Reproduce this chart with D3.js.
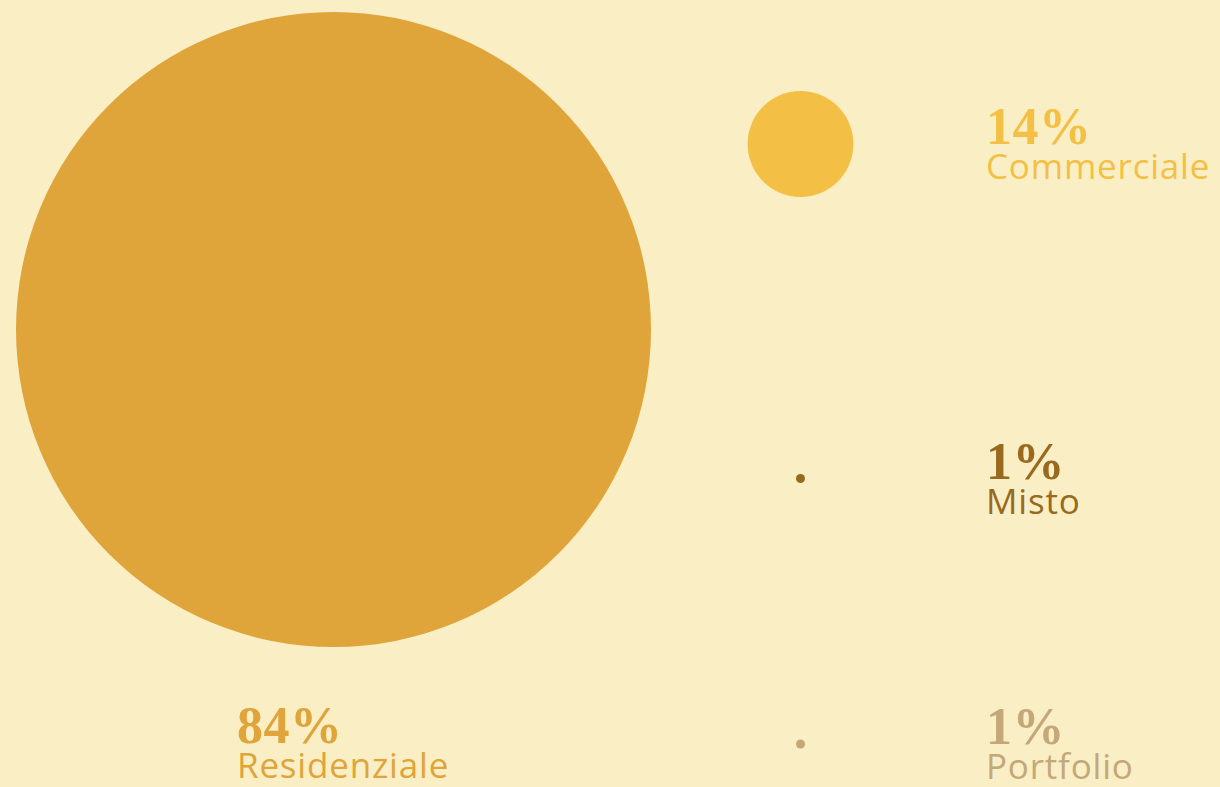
<!DOCTYPE html>
<html>
<head>
<meta charset="utf-8">
<script src="https://cdn.jsdelivr.net/npm/d3@7"></script>
<style>
  html, body { margin: 0; padding: 0; background: #faefc4; }
  svg { display: block; }
  .pct { font-family: "Liberation Serif", serif; font-weight: bold; }
  .lbl { font-family: "Open Sans", sans-serif; }
</style>
</head>
<body>
<svg id="chart" width="1220" height="787"></svg>
<script>
// dati
var categories = ['Residenziale', 'Commerciale', 'Misto', 'Portfolio'];
var values = [84, 14, 1, 1];
var colors = ['#dfa43a', '#f3c045', '#98691f', '#c4a87a'];

var svg = d3.select('#chart');
var width = 1220, height = 787;

svg.append('rect')
  .attr('width', width)
  .attr('height', height)
  .attr('fill', '#faefc4');

// raggio lineare sul valore
var rScale = d3.scaleLinear()
  .domain([0, d3.max(values)])
  .range([0, 317.5]);

// posizioni: il primo a sinistra, gli altri in colonna
var yCol = d3.scalePoint()
  .domain(categories.slice(1))
  .range([144, 744])
  .padding(0);

var data = categories.map(function(c, i) {
  return { name: c, value: values[i], color: colors[i] };
});

function cx(d, i) { return i === 0 ? 333.5 : 800.5; }
function cy(d, i) { return i === 0 ? 329.5 : (i === 2 ? 478.5 : yCol(d.name)); }

svg.selectAll('circle.bubble')
  .data(data)
  .enter()
  .append('circle')
  .attr('class', 'bubble')
  .attr('cx', cx)
  .attr('cy', cy)
  .attr('r', function(d) { return Math.max(rScale(d.value), 4.5); })
  .attr('fill', function(d) { return d.color; });

var labels = svg.selectAll('g.label')
  .data(data)
  .enter()
  .append('g')
  .attr('class', 'label')
  .attr('transform', function(d, i) {
    var x = i === 0 ? 237 : 986;
    var y = i === 0 ? 743 : cy(d, i);
    return 'translate(' + x + ',' + y + ')';
  });

labels.append('text')
  .attr('class', 'pct')
  .attr('font-size', 52)
  .attr('letter-spacing', 0.5)
  .attr('fill', function(d) { return d.color; })
  .text(function(d) { return d.value + '%'; });

labels.append('text')
  .attr('class', 'lbl')
  .attr('y', 35)
  .attr('font-size', 35)
  .attr('letter-spacing', 0.8)
  .attr('fill', function(d) { return d.color; })
  .text(function(d) { return d.name; });
</script>
</body>
</html>
